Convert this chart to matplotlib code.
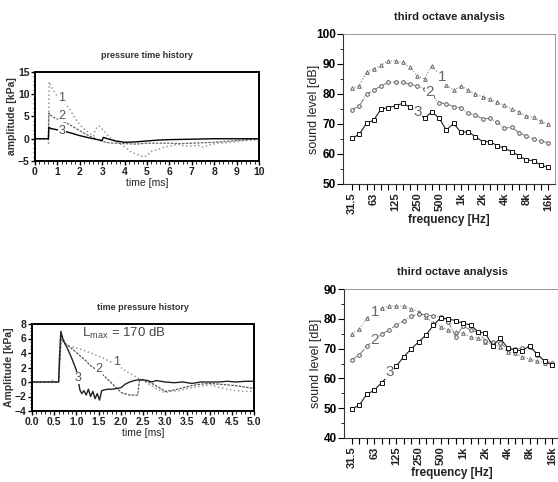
import numpy as np
import matplotlib.pyplot as plt
from matplotlib.ticker import MultipleLocator

plt.rcParams["font.family"] = ["Liberation Sans", "DejaVu Sans"]

# pressure time history, 0-10 ms
t1_a = [0, 0.58, 0.61, 0.63, 0.7, 0.8, 0.9, 1.0, 1.2, 1.4, 1.5, 1.7, 1.9, 2.1, 2.3, 2.5, 2.62, 2.7,
        2.85, 3.0, 3.2, 3.4, 3.7, 4.0, 4.3, 4.6, 4.85, 5.0, 5.2, 5.5, 5.8, 6.1, 6.4, 6.7, 7.0, 7.3,
        7.5, 7.8, 8.2, 8.6, 9.0, 9.5, 10.0]
p1_a = [0, 0, -1.0, 12.8, 12.0, 11.0, 10.2, 9.6, 8.6, 7.6, 7.0, 5.4, 3.8, 2.6, 1.8, 1.0, 0.6, 2.2,
        2.9, 2.2, 1.0, 0.0, -0.8, -1.8, -3.0, -3.6, -4.1, -3.8, -2.8, -2.4, -1.8, -1.6, -1.2, -1.7,
        -1.6, -1.5, -1.9, -1.4, -1.0, -0.9, -0.6, -0.4, -0.2]
t2_a = [0, 0.59, 0.62, 0.7, 0.9, 1.2, 1.5, 1.8, 2.1, 2.4, 2.7, 3.0, 3.3, 3.6, 4.0, 4.5, 5.0, 5.5,
        6.0, 6.5, 7.0, 7.5, 8.0, 8.5, 9.0, 9.5, 10.0]
p2_a = [0, 0, 5.8, 5.3, 4.6, 4.0, 3.3, 2.4, 1.5, 0.7, 0.0, -0.6, -0.9, -1.0, -1.1, -1.2, -1.0,
        -1.0, -1.0, -1.1, -1.0, -0.9, -0.8, -0.6, -0.4, -0.2, 0]
t3_a = [0, 0.6, 0.62, 0.7, 0.9, 1.2, 1.6, 2.0, 2.5, 3.0, 3.05, 3.3, 3.6, 4.0, 4.5, 5.0, 5.5, 6.0,
        7.0, 8.0, 9.0, 10.0]
p3_a = [0, 0, 2.6, 2.3, 2.1, 1.8, 1.3, 0.7, 0.1, -0.4, 0.3, -0.1, -0.5, -0.8, -0.7, -0.5, -0.3,
        -0.2, -0.1, 0, 0, 0]

# time pressure history, 0-5 ms
t1_b = [0, 0.4, 0.45, 0.5, 0.6, 0.62, 0.65, 0.7, 0.8, 1.0, 1.2, 1.4, 1.6, 1.8, 2.0, 2.2, 2.4, 2.6,
        2.8, 3.0, 3.1, 3.3, 3.5, 3.7, 4.0, 4.2, 4.4, 4.6, 4.8, 5.0]
p1_b = [0, 0, 0.2, 0, 0, 3, 6.8, 5.5, 5.0, 4.7, 4.3, 3.8, 3.3, 2.7, 2.0, 1.2, 0.5, -0.2, -0.9,
        -1.5, -1.3, -1.2, -0.9, -0.7, -0.4, -0.7, -1.0, -1.2, -1.3, -1.3]
t2_b = [0, 0.6, 0.63, 0.66, 0.75, 0.9, 1.05, 1.2, 1.31, 1.45, 1.6, 1.75, 1.9, 2.02, 2.2, 2.38,
        2.42, 2.5, 2.7, 2.9, 3.0, 3.2, 3.4, 3.6, 3.8, 4.0, 4.2, 4.4, 4.6, 4.8, 5.0]
p2_b = [0, 0, 3, 6.5, 5.3, 4.6, 3.8, 3.0, 2.3, 1.7, 1.0, 0.1, -0.8, -1.5, -1.8, -1.8, 0.2, 0.3,
        -0.2, -0.9, -1.3, -1.1, -0.8, -0.5, -0.3, -0.2, -0.3, -0.4, -0.5, -0.7, -0.9]
t3_b = [0, 0.6, 0.62, 0.65, 0.7, 0.8, 0.9, 1.0, 1.08, 1.12, 1.17, 1.22, 1.27, 1.32, 1.37, 1.42,
        1.47, 1.52, 1.57, 1.62, 1.7, 1.8, 1.9, 2.0, 2.1, 2.2, 2.3, 2.4, 2.5, 2.6, 2.7, 2.8, 3.0,
        3.2, 3.4, 3.6, 3.8, 4.0, 4.2, 4.4, 4.6, 4.8, 5.0]
p3_b = [0, 0, 3.5, 7.0, 5.8, 4.6, 3.2, 1.6, -1.1, -1.6, -1.2, -1.8, -1.0, -2.0, -1.3, -2.3, -1.6,
        -2.5, -1.2, -1.1, -1.0, -1.0, -0.9, -0.8, -0.3, 0.0, 0.2, 0.3, 0.3, 0.2, 0.0, 0.2, 0.0,
        -0.1, 0.0, -0.2, 0.0, 0.0, 0.0, 0.1, 0.0, 0.1, 0.1]

# third octave bands
bands = ["31.5", "40", "50", "63", "80", "100", "125", "160", "200", "250", "315", "400", "500",
         "630", "800", "1k", "1.25k", "1.6k", "2k", "2.5k", "3.15k", "4k", "5k", "6.3k", "8k",
         "10k", "12.5k", "16k"]
shown = ["31.5", "63", "125", "250", "500", "1k", "2k", "4k", "8k", "16k"]

L1_a = [81.9, 82.8, 87.4, 88.3, 89.6, 91.0, 91.1, 90.6, 88.9, 86.0, 85.0, 89.4, 86.5, 83.0, 81.3,
        82.7, 81.3, 79.9, 79.1, 78.3, 77.2, 76.3, 74.9, 74.1, 72.7, 72.2, 71.0, 69.9]
L2_a = [74.7, 76.0, 79.9, 81.3, 82.7, 83.9, 83.9, 83.9, 83.2, 82.7, 81.7, 79.5, 77.1, 76.7, 75.8,
        75.4, 73.6, 73.0, 71.7, 71.9, 70.6, 68.6, 68.9, 67.1, 66.0, 65.0, 64.3, 63.8]
L3_a = [65.2, 66.6, 70.2, 71.3, 75.0, 75.4, 76.1, 76.9, 75.6, 74.0, 71.9, 74.1, 71.9, 68.0, 70.2,
        67.2, 67.4, 65.8, 64.1, 64.1, 62.8, 61.9, 60.8, 59.4, 58.0, 57.8, 56.3, 55.6]

L1_b = [75.0, 76.5, 80.2, 82.0, 83.5, 84.3, 84.3, 84.3, 83.3, 82.4, 80.5, 78.5, 77.4, 76.2, 75.7,
        75.1, 74.0, 73.5, 72.3, 71.5, 70.6, 69.0, 68.4, 67.3, 66.5, 65.8, 65.3, 64.8]
L2_b = [66.2, 68.0, 70.8, 73.0, 74.9, 76.2, 77.9, 79.4, 80.9, 81.6, 81.3, 80.9, 80.7, 79.0, 74.0,
        77.6, 76.2, 75.5, 72.6, 72.1, 71.8, 69.9, 69.8, 70.1, 70.6, 67.9, 65.8, 65.3]
L3_b = [49.7, 51.1, 54.7, 56.0, 58.6, 61.0, 64.2, 67.3, 69.9, 72.3, 74.6, 77.9, 80.4, 79.9, 79.4,
        78.5, 77.9, 75.7, 75.1, 71.0, 73.4, 70.3, 69.5, 69.3, 71.0, 68.1, 65.8, 64.5]

fig = plt.figure(figsize=(5.58, 4.82), dpi=100)

tick_font = dict(fontsize=7.5, fontweight="bold", color="#222222")
lab_gray = "#555555"


def time_axes(ax, title, ylabel, xmax, ymin, ymax, xmaj, xmin_step, ymaj, ymin_step, ylab_x, xlab_y):
    ax.set_xlim(0, xmax)
    ax.set_ylim(ymin, ymax)
    ax.xaxis.set_major_locator(MultipleLocator(xmaj))
    ax.xaxis.set_minor_locator(MultipleLocator(xmin_step))
    ax.yaxis.set_major_locator(MultipleLocator(ymaj))
    ax.yaxis.set_minor_locator(MultipleLocator(ymin_step))
    ax.tick_params(which="major", direction="out", length=3, width=1, pad=1)
    ax.tick_params(which="minor", direction="out", length=1.8, width=0.6)
    for lbl in ax.get_yticklabels():
        lbl.set(**tick_font)
    for s in ax.spines.values():
        s.set_linewidth(1.4)
    ax.set_title(title, fontsize=6.5, fontweight="bold", color="#333333", pad=10)
    ax.set_xlabel("time [ms]", fontsize=7.5, color="#222222")
    ax.set_ylabel(ylabel, fontsize=7.5, fontweight="bold", color="#333333")
    ax.yaxis.set_label_coords(ylab_x, 0.5)
    ax.xaxis.set_label_coords(0.5, xlab_y)


# top left
ax1 = fig.add_axes([35 / 558, 1 - 161 / 482, 224 / 558, 89 / 482])
ax1.plot(t1_a, p1_a, color="#999999", ls=":", lw=1.1)
ax1.plot(t2_a, p2_a, color="#666666", ls="--", lw=0.9, dashes=(2, 1))
ax1.plot(t3_a, p3_a, color="black", lw=1.0)
time_axes(ax1, "pressure time history", "amplitude [kPa]", 10, -5, 15, 1, 0.2, 5, 1, -0.08, -0.19)
ax1.set_xticks(np.arange(0, 11, 1))
ax1.set_xticklabels([str(v) for v in range(11)], **tick_font)
for txt, x, y in [("1", 1.2, 9.2), ("2", 1.2, 5.1), ("3", 1.2, 1.8)]:
    ax1.text(x, y, txt, fontsize=9, color=lab_gray, ha="center", va="center",
             bbox=dict(fc="white", ec="none", pad=0.3), zorder=5)

# bottom left
ax2 = fig.add_axes([32 / 558, 1 - 411 / 482, 222 / 558, 87 / 482])
ax2.plot(t1_b, p1_b, color="#999999", ls=":", lw=1.1)
ax2.plot(t2_b, p2_b, color="#555555", ls="--", lw=0.9, dashes=(2, 1))
ax2.plot(t3_b, p3_b, color="#222222", lw=1.0)
time_axes(ax2, "time pressure history", "Amplitude [kPa]", 5, -4, 8, 0.5, 0.1, 2, 0.5, -0.082, -0.195)
ax2.set_xticks(np.arange(0, 5.01, 0.5))
ax2.set_xticklabels([f"{v:.1f}" for v in np.arange(0, 5.01, 0.5)], **tick_font)
for txt, x, y in [("1", 1.91, 2.76), ("2", 1.51, 1.8), ("3", 1.04, 0.55)]:
    ax2.text(x, y, txt, fontsize=9, color=lab_gray, ha="center", va="center",
             bbox=dict(fc="white", ec="none", pad=0.3), zorder=5)
ax2.text(1.13, 6.2, r"L$_{\mathregular{max}}$ = 170 dB", fontsize=9.5, color="#444444",
         ha="left", va="baseline")


def octave_axes(ax, ymin, ymax, xlim, ylab_x, xlab_y):
    x = np.arange(len(bands))
    ax.set_xlim(*xlim)
    ax.set_ylim(ymin, ymax)
    ax.set_xticks(x)
    ax.set_xticklabels([b if b in shown else "" for b in bands], rotation=90,
                       fontsize=8, fontweight="bold", color="#222222")
    ax.yaxis.set_major_locator(MultipleLocator(10))
    ax.yaxis.set_minor_locator(MultipleLocator(5))
    ax.tick_params(axis="x", direction="out", length=4, width=0.8, pad=2)
    ax.tick_params(axis="y", which="major", direction="out", length=4, width=0.8, pad=1,
                   labelsize=8.5)
    ax.tick_params(axis="y", which="minor", direction="out", length=2, width=0.6)
    for lbl in ax.get_yticklabels():
        lbl.set_fontweight("bold")
    for s in ("top", "right"):
        ax.spines[s].set_color("#888888")
        ax.spines[s].set_linewidth(0.6)
    for s in ("left", "bottom"):
        ax.spines[s].set_color("#333333")
        ax.spines[s].set_linewidth(0.8)
    ax.set_title("third octave analysis", fontsize=8, fontweight="bold", color="#222222", pad=10)
    ax.set_xlabel("frequency [Hz]", fontsize=8.5, fontweight="bold", color="#222222")
    ax.set_ylabel("sound level [dB]", fontsize=9, color="#222222")
    ax.yaxis.set_label_coords(ylab_x, 0.5)
    ax.xaxis.set_label_coords(0.5, xlab_y)
    return x


mk = dict(ms=2.6, mfc="white", mew=0.7)

# top right
ax3 = fig.add_axes([343 / 558, 1 - 184 / 482, 212 / 558, 150 / 482])
xb = octave_axes(ax3, 50, 100, (-1.24, 27.96), -0.108, -0.2)
ax3.plot(xb, L1_a, color="#888888", ls=":", lw=0.8, marker="^", mec="#666666", **mk)
ax3.plot(xb, L2_a, color="#777777", ls="-.", lw=0.7, marker="o", mec="#555555", **mk)
ax3.plot(xb, L3_a, color="#222222", ls="-", lw=0.8, marker="s", mec="#111111", **mk)
for txt, x, y in [("1", 12.4, 85.7), ("2", 10.7, 80.7), ("3", 9.0, 74.0)]:
    ax3.text(x, y, txt, fontsize=11, color="#666666", ha="center", va="center",
             bbox=dict(fc="white", ec="none", pad=0.2), zorder=5)

# bottom right
ax4 = fig.add_axes([344 / 558, 1 - 438 / 482, 216 / 558, 149 / 482])
xb = octave_axes(ax4, 40, 90, (-1.08, 28.08), -0.1, -0.195)
ax4.plot(xb, L1_b, color="#888888", ls=":", lw=0.8, marker="^", mec="#666666", **mk)
ax4.plot(xb, L2_b, color="#777777", ls="-.", lw=0.7, marker="o", mec="#555555", **mk)
ax4.plot(xb, L3_b, color="#222222", ls="-", lw=0.8, marker="s", mec="#111111", **mk)
for txt, x, y in [("1", 3.1, 82.3), ("2", 3.0, 72.9), ("3", 5.1, 62.1)]:
    ax4.text(x, y, txt, fontsize=11, color="#666666", ha="center", va="center",
             bbox=dict(fc="white", ec="none", pad=0.2), zorder=5)

fig.savefig("out.png", dpi=100)
